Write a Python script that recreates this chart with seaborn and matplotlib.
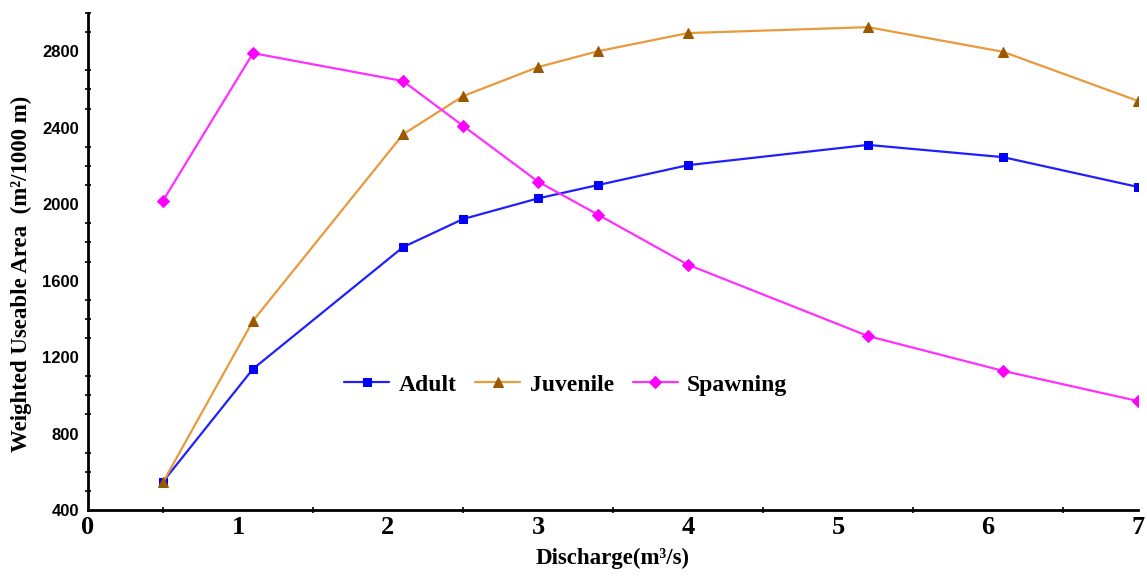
import numpy as np
import pandas as pd
import matplotlib
matplotlib.use("Agg")
import matplotlib.pyplot as plt
from matplotlib.ticker import MultipleLocator
import seaborn as sns

discharge = [0.5, 1.1, 2.1, 2.5, 3.0, 3.4, 4.0, 5.2, 6.1, 7.0]
adult = [548, 1138, 1775, 1922, 2030, 2100, 2204, 2310, 2246, 2090]
juvenile = [545, 1390, 2365, 2565, 2717, 2800, 2895, 2926, 2797, 2540]
spawning = [2018, 2790, 2644, 2410, 2118, 1945, 1683, 1310, 1128, 970]
series_names = ["Adult", "Juvenile", "Spawning"]

sns.set_theme(style="white")
plt.rcParams['font.family'] = ['Liberation Serif', 'DejaVu Serif']
plt.rcParams['text.color'] = 'black'
plt.rcParams['axes.labelcolor'] = 'black'
plt.rcParams['xtick.color'] = 'black'
plt.rcParams['ytick.color'] = 'black'

fig = plt.figure(figsize=(11.47, 5.76), dpi=100)
ax = fig.add_axes([88/1147, 1 - 510/576, (1138-88)/1147, (510-13)/576])

styles = {
    "Adult": dict(color="#2020FF", marker="s", mfc="#0000FF", mec="#0000FF", ms=6),
    "Juvenile": dict(color="#E89A3C", marker="^", mfc="#9A5800", mec="#9A5800", ms=7),
    "Spawning": dict(color="#FF30FF", marker="D", mfc="#FF00FF", mec="#FF00FF", ms=6),
}
values = {"Adult": adult, "Juvenile": juvenile, "Spawning": spawning}

for name in series_names:
    st = styles[name]
    df = pd.DataFrame({"x": discharge, "y": values[name]})
    sns.lineplot(data=df, x="x", y="y", ax=ax, color=st["color"], marker=st["marker"],
                 markerfacecolor=st["mfc"], markeredgecolor=st["mec"], markersize=st["ms"],
                 linewidth=1.6, label=name)

ax.set_xlim(0, 7)
ax.set_ylim(400, 3000)
ax.xaxis.set_major_locator(MultipleLocator(1))
ax.xaxis.set_minor_locator(MultipleLocator(0.5))
ax.yaxis.set_major_locator(MultipleLocator(400))
ax.yaxis.set_minor_locator(MultipleLocator(100))
ax.set_yticks(np.arange(400, 2801, 400))

for s in ["top", "right"]:
    ax.spines[s].set_visible(False)
for s in ["left", "bottom"]:
    ax.spines[s].set_color("black")
    ax.spines[s].set_linewidth(2)

ax.tick_params(axis="both", which="major", direction="inout", length=7, width=1.5, color="black", labelcolor="black")
ax.tick_params(axis="both", which="minor", direction="inout", length=5, width=1.2, color="black")
ax.tick_params(axis="x", which="major", pad=1)
ax.tick_params(axis="y", which="major", pad=3)
ax.tick_params(axis="y", which="minor", left=True)
ax.tick_params(axis="x", which="minor", bottom=True)

for lbl in ax.get_xticklabels():
    lbl.set_fontfamily("Liberation Serif")
    lbl.set_fontweight("bold")
    lbl.set_fontsize(19)
for lbl in ax.get_yticklabels():
    lbl.set_fontfamily("Liberation Sans")
    lbl.set_fontweight("bold")
    lbl.set_fontsize(12)

ax.set_xlabel("Discharge(m³/s)", fontsize=16.5, fontweight="bold", labelpad=6, color="black")
ax.set_ylabel("Weighted Useable Area  (m²/1000 m)", fontsize=16.5, fontweight="bold", color="black")
ax.yaxis.set_label_coords(-0.053, 0.475)

leg = ax.legend(loc="center", bbox_to_anchor=(0.455, 0.252), ncol=3, frameon=False,
                prop={"family": "Liberation Serif", "weight": "bold", "size": 17},
                handlelength=1.9, columnspacing=0.8, handletextpad=0.4)
for t in leg.get_texts():
    t.set_color("black")

fig.savefig("out.png", dpi=100, facecolor="white")
